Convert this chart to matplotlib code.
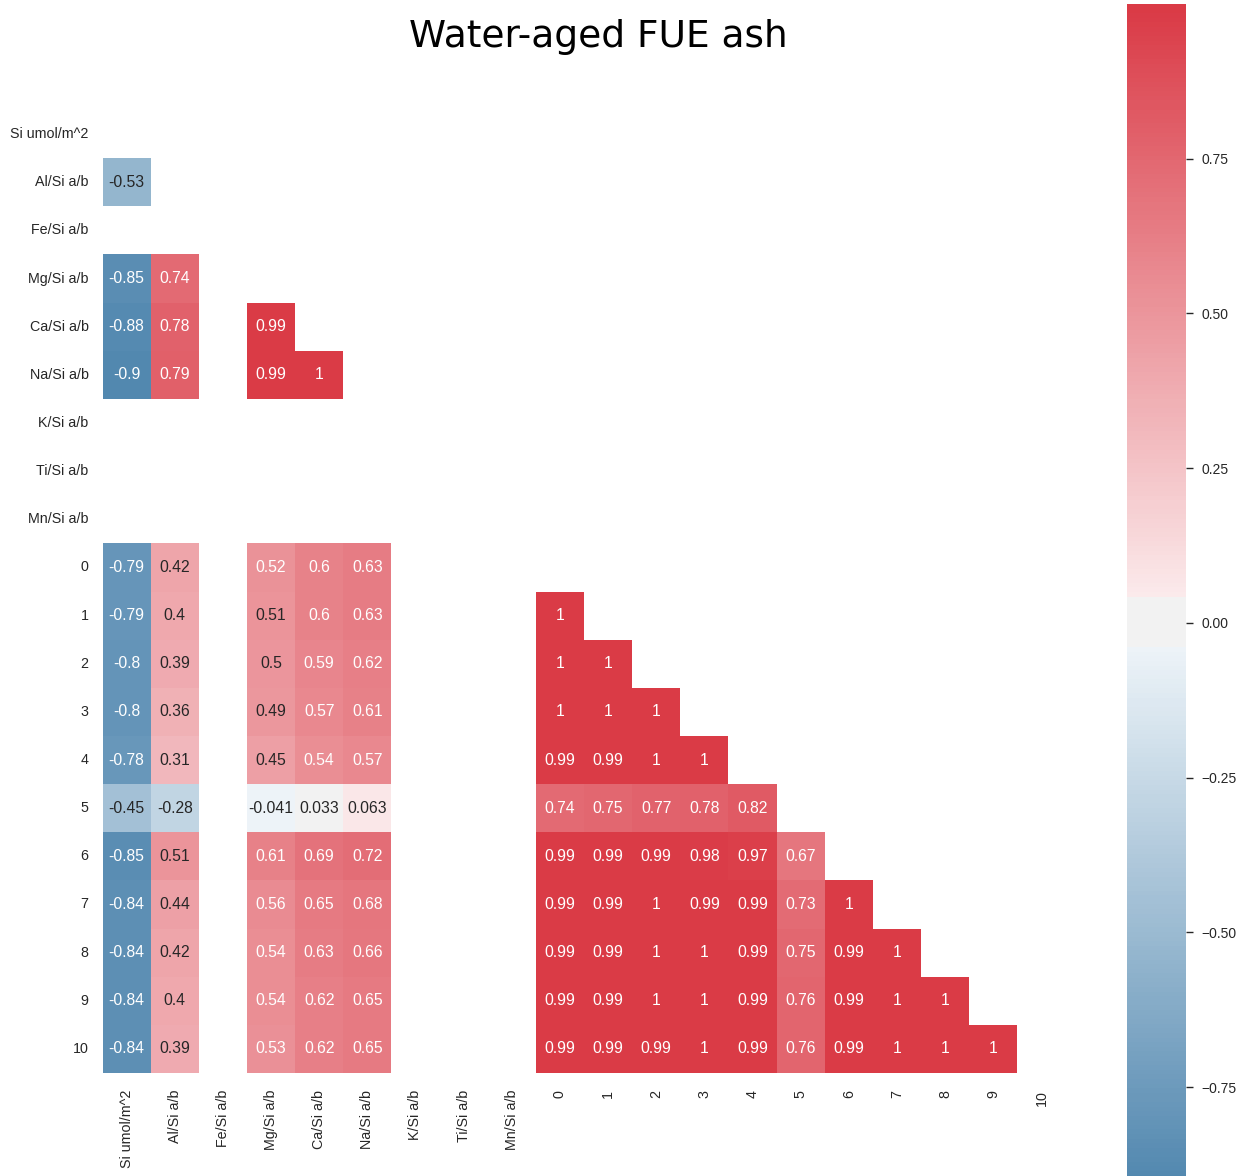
import colorsys

import numpy as np
import pandas as pd
import matplotlib
matplotlib.use("Agg")
import matplotlib.pyplot as plt
from matplotlib.colors import LinearSegmentedColormap
import seaborn as sns

sns.set_style("white")
plt.rcParams["font.family"] = ["Liberation Sans", "DejaVu Sans"]

labels = ["Si umol/m^2", "Al/Si a/b", "Fe/Si a/b", "Mg/Si a/b", "Ca/Si a/b",
          "Na/Si a/b", "K/Si a/b", "Ti/Si a/b", "Mn/Si a/b",
          "0", "1", "2", "3", "4", "5", "6", "7", "8", "9", "10"]

nan = np.nan
# lower-triangle correlations, one list per row (columns before the diagonal)
rows = [
    [],
    [-0.53],
    [nan, nan],
    [-0.85, 0.74, nan],
    [-0.88, 0.78, nan, 0.99],
    [-0.9, 0.79, nan, 0.99, 1],
    [nan] * 6,
    [nan] * 7,
    [nan] * 8,
    [-0.79, 0.42, nan, 0.52, 0.6, 0.63, nan, nan, nan],
    [-0.79, 0.4, nan, 0.51, 0.6, 0.63, nan, nan, nan, 1],
    [-0.8, 0.39, nan, 0.5, 0.59, 0.62, nan, nan, nan, 1, 1],
    [-0.8, 0.36, nan, 0.49, 0.57, 0.61, nan, nan, nan, 1, 1, 1],
    [-0.78, 0.31, nan, 0.45, 0.54, 0.57, nan, nan, nan, 0.99, 0.99, 1, 1],
    [-0.45, -0.28, nan, -0.041, 0.033, 0.063, nan, nan, nan, 0.74, 0.75, 0.77, 0.78, 0.82],
    [-0.85, 0.51, nan, 0.61, 0.69, 0.72, nan, nan, nan, 0.99, 0.99, 0.99, 0.98, 0.97, 0.67],
    [-0.84, 0.44, nan, 0.56, 0.65, 0.68, nan, nan, nan, 0.99, 0.99, 1, 0.99, 0.99, 0.73, 1],
    [-0.84, 0.42, nan, 0.54, 0.63, 0.66, nan, nan, nan, 0.99, 0.99, 1, 1, 0.99, 0.75, 0.99, 1],
    [-0.84, 0.4, nan, 0.54, 0.62, 0.65, nan, nan, nan, 0.99, 0.99, 1, 1, 0.99, 0.76, 0.99, 1, 1],
    [-0.84, 0.39, nan, 0.53, 0.62, 0.65, nan, nan, nan, 0.99, 0.99, 0.99, 1, 0.99, 0.76, 0.99, 1, 1, 1],
]

n = len(labels)
corr = np.full((n, n), nan)
for i, r in enumerate(rows):
    corr[i, :len(r)] = r
    corr[:len(r), i] = r
corr = pd.DataFrame(corr, index=labels, columns=labels)

mask = np.triu(np.ones((n, n), dtype=bool))


def light_of(rgb, l=0.95):
    h, _, s = colorsys.rgb_to_hls(*rgb)
    return colorsys.hls_to_rgb(h, l, s)


# blue -> pale blue | gray gap | pale red -> red
base = sns.diverging_palette(240, 10, as_cmap=True)
blue = base(0.0)[:3]
red = base(1.0)[:3]
sep = 10
half = 128 - sep // 2
neg = LinearSegmentedColormap.from_list("neg", [blue, light_of(blue)])(np.linspace(0, 1, half))
pos = LinearSegmentedColormap.from_list("pos", [light_of(red), red])(np.linspace(0, 1, half))
mid = np.tile([0.95, 0.95, 0.95, 1.0], (sep, 1))
cmap = LinearSegmentedColormap.from_list("div", np.vstack([neg, mid, pos]))

W, H = 1245, 1176
fig = plt.figure(figsize=(W / 100, H / 100), dpi=100)
ax = fig.add_axes([102 / W, 1 - 1073 / H, 964 / W, 963 / H])
cax = fig.add_axes([1127 / W, (1176 - 1180) / H, 59 / W, 1176 / H])

sns.heatmap(corr, mask=mask, cmap=cmap, center=0, annot=True, square=True,
            ax=ax, cbar_ax=cax, annot_kws={"size": 11.3})

ax.tick_params(axis="both", length=0, labelsize=10.3, labelcolor=".15")
ax.tick_params(axis="y", pad=10)
ax.tick_params(axis="x", pad=12)
plt.setp(ax.get_xticklabels(), rotation=90)
plt.setp(ax.get_yticklabels(), rotation=0)

cax.tick_params(length=5, width=1, color=".15", labelsize=10, labelcolor=".15", pad=6)
cax.set_yticks([-0.75, -0.5, -0.25, 0, 0.25, 0.5, 0.75])
cax.set_yticklabels(["\u22120.75", "\u22120.50", "\u22120.25", "0.00", "0.25", "0.50", "0.75"])

fig.text(598 / W, 1 - 37 / H, "Water-aged FUE ash", ha="center", va="center",
         fontsize=27, family="DejaVu Sans", color="black")

fig.savefig("out.png", dpi=100)
